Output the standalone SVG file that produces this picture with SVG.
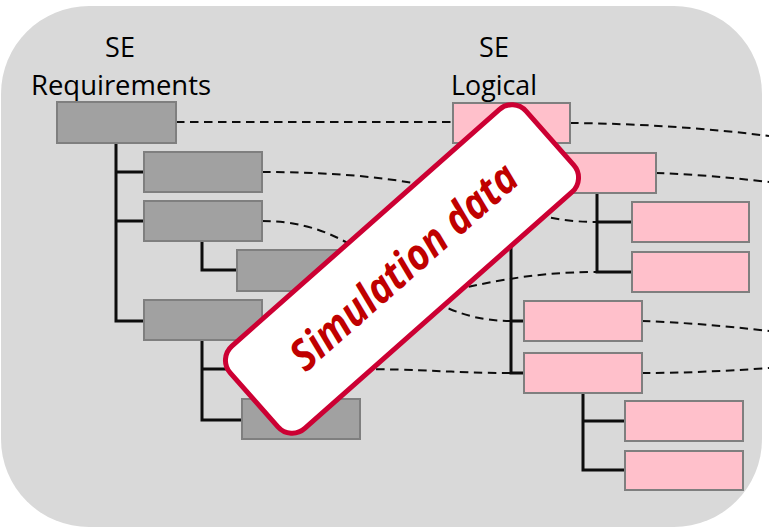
<svg xmlns="http://www.w3.org/2000/svg" width="769" height="528" viewBox="0 0 769 528">
  <style>
    .bg { fill: #d9d9d9; }
    .req { fill: #a1a1a1; stroke: #7f7f7f; stroke-width: 2; }
    .log { fill: #ffc0cb; stroke: #7f7f7f; stroke-width: 2; }
    .tree { fill: none; stroke: #0d0d0d; stroke-width: 3; stroke-linejoin: miter; }
    .trace { fill: none; stroke: #0d0d0d; stroke-width: 2; stroke-dasharray: 8.5 5.5; }
    .label { font-family: "Open Sans", "Noto Sans", sans-serif; font-size: 27px; fill: #000; text-anchor: middle; }
    .banner { fill: #ffffff; stroke: #cc0033; stroke-width: 5; }
    .bannertext { font-family: "Open Sans", "Liberation Sans", sans-serif; font-size: 43px; font-weight: bold; font-style: italic; fill: #c00000; text-anchor: middle; }
  </style>

  <rect class="bg" x="1" y="6" width="761" height="521" rx="88" ry="88"/>

  <g id="labels">
    <text class="label" x="120" y="57">SE</text>
    <text class="label" x="121" y="95" textLength="180" lengthAdjust="spacingAndGlyphs">Requirements</text>
    <text class="label" x="494" y="57">SE</text>
    <text class="label" x="494" y="95" textLength="86" lengthAdjust="spacingAndGlyphs">Logical</text>
  </g>

  <g id="connectors">
    <!-- traceability links -->
    <path class="trace" d="M176,122 H453"/>
    <path class="trace" d="M570,123 Q675,124 769,136"/>
    <path class="trace" d="M262,172 C480,172 500,222 597,222"/>
    <path class="trace" d="M262,221 C380,221 400,321 511,321"/>
    <path class="trace" d="M262,320 C400,320 460,272 597,272"/>
    <path class="trace" d="M348,369 C430,369 450,373 511,373"/>
    <path class="trace" d="M656,173 Q710,175 769,182"/>
    <path class="trace" d="M642,321 Q700,323 769,331"/>
    <path class="trace" d="M642,373 Q700,373 769,368"/>
    <!-- requirements tree -->
    <path class="tree" d="M116,143 V321 H144 M116,172 H144 M116,221 H144"/>
    <path class="tree" d="M202,241 V270 H237"/>
    <path class="tree" d="M202,340 V420 H242 M202,369 H250"/>
    <!-- logical tree -->
    <path class="tree" d="M511,143 V373 H524 M511,321 H524 M511,173 H539"/>
    <path class="tree" d="M597,193 V272 H632 M597,222 H632"/>
    <path class="tree" d="M583,393 V470 H625 M583,421 H625"/>
  </g>

  <g id="req1"><rect class="req" x="57" y="102" width="119" height="41"/></g>
  <g id="req2"><rect class="req" x="144" y="152" width="118" height="40"/></g>
  <g id="req3"><rect class="req" x="144" y="201" width="118" height="40"/></g>
  <g id="req3-1"><rect class="req" x="237" y="250" width="118" height="41"/></g>
  <g id="req4"><rect class="req" x="144" y="300" width="118" height="40"/></g>
  <g id="req4-1"><rect class="req" x="250" y="350" width="98" height="38"/></g>
  <g id="req4-2"><rect class="req" x="242" y="399" width="118" height="40"/></g>

  <g id="log1"><rect class="log" x="453" y="103" width="117" height="40"/></g>
  <g id="log2"><rect class="log" x="539" y="153" width="117" height="40"/></g>
  <g id="log2-1"><rect class="log" x="632" y="202" width="117" height="40"/></g>
  <g id="log2-2"><rect class="log" x="632" y="252" width="117" height="40"/></g>
  <g id="log3"><rect class="log" x="524" y="301" width="118" height="40"/></g>
  <g id="log4"><rect class="log" x="524" y="353" width="118" height="40"/></g>
  <g id="log4-1"><rect class="log" x="625" y="401" width="118" height="40"/></g>
  <g id="log4-2"><rect class="log" x="625" y="451" width="118" height="39"/></g>

  <g id="simulation-banner" transform="translate(402,269) rotate(-41.5)">
    <rect class="banner" x="-197.5" y="-55" width="395" height="110" rx="19" ry="19"/>
    <text class="bannertext" x="3" y="14" textLength="288" lengthAdjust="spacingAndGlyphs">Simulation data</text>
  </g>
</svg>
